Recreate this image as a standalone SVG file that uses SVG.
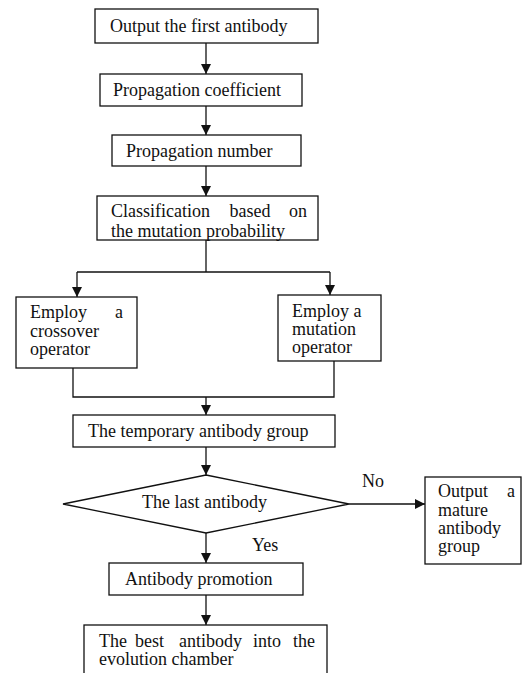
<svg xmlns="http://www.w3.org/2000/svg" width="523" height="673" viewBox="0 0 523 673">
<style>
.box{fill:#fff;stroke:#111;stroke-width:1.3}
.ln{fill:none;stroke:#111;stroke-width:1.3}
.t{font-family:'Liberation Serif','Times New Roman','DejaVu Serif',serif;font-size:18px;fill:#111}
.e{text-anchor:end}
</style>
<defs>
<marker id="ah" markerUnits="userSpaceOnUse" markerWidth="10" markerHeight="12" viewBox="0 0 10 12" refX="10" refY="6" orient="auto">
<path d="M0,1 L10,6 L0,11 Z" fill="#111"/>
</marker>
</defs>
<rect width="523" height="673" fill="#fff"/>
<g id="connectors">
<line class="ln" x1="206" y1="43" x2="206" y2="74" marker-end="url(#ah)"/>
<line class="ln" x1="206" y1="106" x2="206" y2="135" marker-end="url(#ah)"/>
<line class="ln" x1="206" y1="166" x2="206" y2="196" marker-end="url(#ah)"/>
<polyline class="ln" points="206,240 206,272"/>
<polyline class="ln" points="77,272 330,272"/>
<line class="ln" x1="77" y1="272" x2="77" y2="297" marker-end="url(#ah)"/>
<line class="ln" x1="330" y1="272" x2="330" y2="295" marker-end="url(#ah)"/>
<polyline class="ln" points="73,368 73,397 334,397 334,361"/>
<line class="ln" x1="206" y1="397" x2="206" y2="415" marker-end="url(#ah)"/>
<line class="ln" x1="206" y1="447" x2="206" y2="475" marker-end="url(#ah)"/>
<line class="ln" x1="349" y1="504" x2="425" y2="504" marker-end="url(#ah)"/>
<line class="ln" x1="206" y1="533" x2="206" y2="563" marker-end="url(#ah)"/>
<line class="ln" x1="206" y1="595" x2="206" y2="625" marker-end="url(#ah)"/>
<text class="t" x="362" y="487">No</text>
<text class="t" x="252" y="551">Yes</text>
</g>
<g id="n1">
<rect class="box" x="95" y="9" width="223" height="34"/>
<text class="t" x="110" y="32">Output the first antibody</text>
</g>
<g id="n2">
<rect class="box" x="100" y="74" width="202" height="32"/>
<text class="t" x="113" y="96">Propagation coefficient</text>
</g>
<g id="n3">
<rect class="box" x="112" y="135" width="189" height="31"/>
<text class="t" x="126" y="157">Propagation number</text>
</g>
<g id="n4">
<rect class="box" x="97" y="196" width="221" height="44"/>
<text class="t" x="111" y="217">Classification</text>
<text class="t" x="250" y="217" text-anchor="middle">based</text>
<text class="t e" x="307" y="217">on</text>
<text class="t" x="111" y="237">the mutation probability</text>
</g>
<g id="n5">
<rect class="box" x="16" y="297" width="121" height="71"/>
<text class="t" x="30" y="318">Employ</text>
<text class="t e" x="123" y="318">a</text>
<text class="t" x="30" y="337">crossover</text>
<text class="t" x="30" y="355">operator</text>
</g>
<g id="n6">
<rect class="box" x="278" y="295" width="103" height="66"/>
<text class="t" x="292" y="317">Employ a</text>
<text class="t" x="292" y="335">mutation</text>
<text class="t" x="292" y="353">operator</text>
</g>
<g id="n7">
<rect class="box" x="73" y="415" width="262" height="32"/>
<text class="t" x="88" y="437">The temporary antibody group</text>
</g>
<g id="n8">
<polygon class="box" points="206,475 349,504 206,533 63,504"/>
<text class="t" x="142" y="508">The last antibody</text>
</g>
<g id="n9">
<rect class="box" x="425" y="477" width="96" height="87"/>
<text class="t" x="438" y="497">Output</text>
<text class="t e" x="515" y="497">a</text>
<text class="t" x="438" y="516">mature</text>
<text class="t" x="438" y="534">antibody</text>
<text class="t" x="438" y="552">group</text>
</g>
<g id="n10">
<rect class="box" x="109" y="563" width="194" height="32"/>
<text class="t" x="125" y="585">Antibody promotion</text>
</g>
<g id="n11">
<rect class="box" x="84" y="625" width="243" height="60"/>
<text class="t" x="99" y="647">The</text>
<text class="t" x="135" y="647">best</text>
<text class="t" x="179" y="647">antibody</text>
<text class="t" x="253" y="647">into</text>
<text class="t e" x="315" y="647">the</text>
<text class="t" x="99" y="665">evolution chamber</text>
</g>
</svg>
